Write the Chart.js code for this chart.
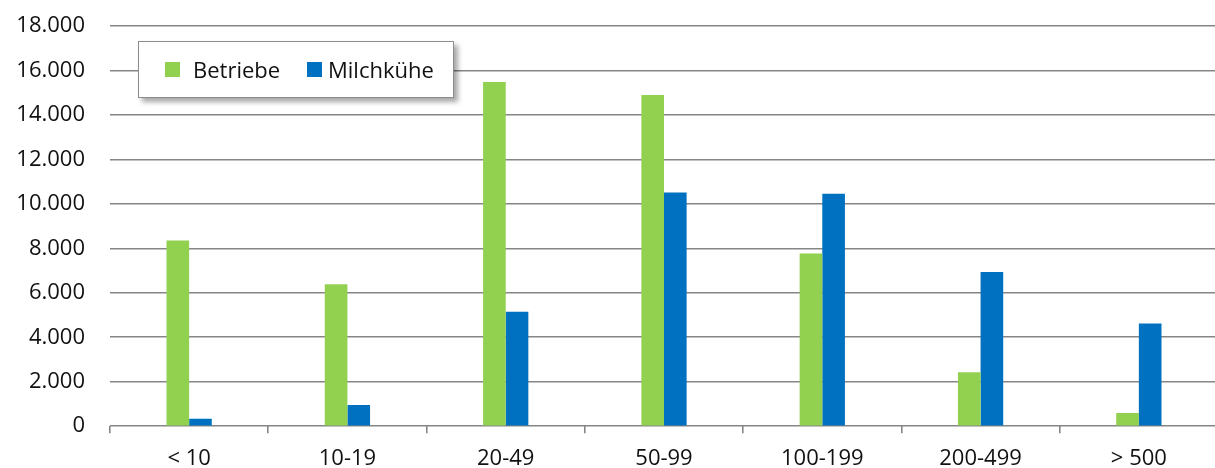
<!DOCTYPE html>
<html lang="de">
<head>
<meta charset="utf-8">
<script src="https://cdn.jsdelivr.net/npm/chart.js@4.4.1/dist/chart.umd.min.js"></script>
<style>
  html, body { margin: 0; padding: 0; background: #ffffff; overflow: hidden; }
  #wrap { position: relative; width: 1220px; height: 468px; }
  #legend {
    position: absolute; left: 138px; top: 41px; width: 314px; height: 55px;
    border: 1px solid #8c8c8c; background: #ffffff;
    box-shadow: 4px 4px 5px rgba(0,0,0,0.35);
    font-family: "Open Sans", "DejaVu Sans", sans-serif; font-size: 22px; color: #111;
    box-sizing: content-box;
  }
  .swatch { position: absolute; top: 20px; width: 15px; height: 15px; }
  .label { position: absolute; top: 12px; line-height: 30px; white-space: nowrap; }
</style>
</head>
<body>
<div id="wrap">
  <canvas id="c" width="1220" height="468"></canvas>
  <div id="legend"></div>
</div>
<script>
// Herdengrößenklassen (Anzahl Milchkühe je Betrieb)
const categories = ['< 10', '10-19', '20-49', '50-99', '100-199', '200-499', '> 500'];
// Anzahl Betriebe je Größenklasse
const betriebe = [8350, 6390, 15480, 14900, 7770, 2430, 590];
// Milchkühe je Größenklasse (in 100 Tieren)
const milchkuehe = [330, 950, 5150, 10510, 10450, 6930, 4620];
const seriesNames = ['Betriebe', 'Milchkühe'];
const seriesColors = ['#92D050', '#0070C0'];
const yMax = 18000;
const yStep = 2000;

const FONT = '"Open Sans", "DejaVu Sans", sans-serif';

function formatDE(v) {
  return String(Math.round(v)).replace(/\B(?=(\d{3})+(?!\d))/g, '.');
}

const ctx = document.getElementById('c').getContext('2d');
const chart = new Chart(ctx, {
  type: 'bar',
  data: {
    labels: categories,
    datasets: [
      { label: seriesNames[0], data: betriebe, backgroundColor: seriesColors[0] },
      { label: seriesNames[1], data: milchkuehe, backgroundColor: seriesColors[1] }
    ]
  },
  options: {
    responsive: false,
    animation: false,
    devicePixelRatio: 1,
    layout: { padding: { top: 26, right: 2, left: 0, bottom: 0 } },
    datasets: {
      bar: { categoryPercentage: 0.286, barPercentage: 1.0, borderWidth: 0 }
    },
    plugins: {
      legend: { display: false },
      tooltip: { enabled: false }
    },
    scales: {
      x: {
        offset: true,
        grid: {
          offset: true,
          drawOnChartArea: false,
          drawTicks: true,
          tickLength: 7,
          color: '#868686',
          lineWidth: 1.6
        },
        border: { display: false },
        ticks: {
          color: '#111111',
          font: { family: FONT, size: 22 },
          padding: 12,
          maxRotation: 0
        },
        afterFit(scale) { scale.height = 41.8; }
      },
      y: {
        min: 0,
        max: yMax,
        grid: {
          color: '#868686',
          lineWidth: 1.6,
          drawTicks: true,
          tickLength: 25,
          tickColor: 'rgba(0,0,0,0)'
        },
        border: { display: false },
        ticks: {
          stepSize: yStep,
          color: '#111111',
          font: { family: FONT, size: 22 },
          padding: 0,
          callback: (v) => formatDE(v)
        },
        afterFit(scale) { scale.width = 110; }
      }
    }
  }
});

// Legende als HTML-Kasten aus den Datensätzen
const legend = document.getElementById('legend');
const swatchX = [26, 168];
const labelX = [54, 189];
chart.data.datasets.forEach((ds, i) => {
  const sw = document.createElement('span');
  sw.className = 'swatch';
  sw.style.left = swatchX[i] + 'px';
  sw.style.background = ds.backgroundColor;
  const lb = document.createElement('span');
  lb.className = 'label';
  lb.style.left = labelX[i] + 'px';
  lb.textContent = ds.label;
  legend.appendChild(sw);
  legend.appendChild(lb);
});
</script>
</body>
</html>
